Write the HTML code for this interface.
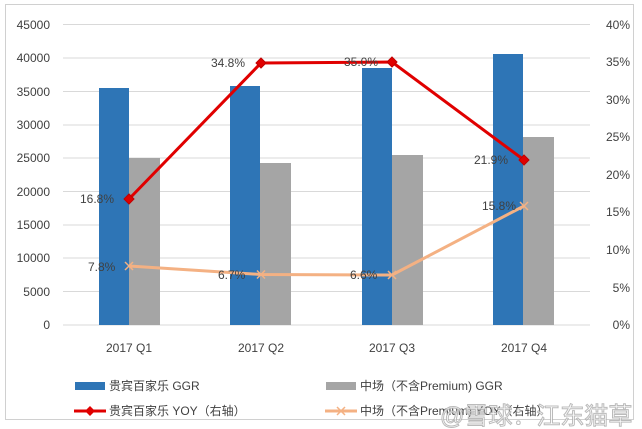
<!DOCTYPE html><html><head><meta charset="utf-8"><style>body{margin:0;background:#fff}svg{display:block}text{font-family:"Liberation Sans","Noto Sans CJK SC",sans-serif;font-size:12px;fill:#404040}</style></head><body>
<svg width="642" height="429" viewBox="0 0 642 429">
<rect x="5.5" y="4.5" width="628" height="415" fill="#fff" stroke="#d0d0d0"/>
<g stroke="#d9d9d9" stroke-width="1">
<line x1="63" x2="590" y1="24.5" y2="24.5"/><line x1="63" x2="590" y1="58" y2="58"/><line x1="63" x2="590" y1="91.5" y2="91.5"/><line x1="63" x2="590" y1="125" y2="125"/><line x1="63" x2="590" y1="158" y2="158"/><line x1="63" x2="590" y1="191.5" y2="191.5"/><line x1="63" x2="590" y1="225" y2="225"/><line x1="63" x2="590" y1="258" y2="258"/><line x1="63" x2="590" y1="291.5" y2="291.5"/><line x1="63" x2="590" y1="325" y2="325"/>
</g>
<g text-anchor="end"><text x="50" y="29">45000</text><text x="50" y="62">40000</text><text x="50" y="96">35000</text><text x="50" y="129">30000</text><text x="50" y="162">25000</text><text x="50" y="196">20000</text><text x="50" y="229">15000</text><text x="50" y="262">10000</text><text x="50" y="296">5000</text><text x="50" y="329">0</text></g>
<g text-anchor="end"><text x="630" y="29">40%</text><text x="630" y="66">35%</text><text x="630" y="104">30%</text><text x="630" y="141">25%</text><text x="630" y="179">20%</text><text x="630" y="216">15%</text><text x="630" y="254">10%</text><text x="630" y="292">5%</text><text x="630" y="329">0%</text></g>
<g fill="#2e75b6"><rect x="99" y="88" width="30" height="237"/><rect x="230" y="86" width="30" height="239"/><rect x="362" y="68" width="30" height="257"/><rect x="493" y="54" width="30" height="271"/></g>
<g fill="#a5a5a5"><rect x="129" y="158" width="31" height="167"/><rect x="260" y="163" width="31" height="162"/><rect x="392" y="155" width="31" height="170"/><rect x="523" y="137" width="31" height="188"/></g>
<polyline points="129,266 261,274.5 392,275 524,206" fill="none" stroke="#f4b183" stroke-width="3"/>
<g stroke="#f4b183" stroke-width="1.5"><path d="M125,262l8,8M133,262l-8,8M257,270.5l8,8M265,270.5l-8,8M388,271l8,8M396,271l-8,8M520,202l8,8M528,202l-8,8"/></g>
<polyline points="129,199 261,63 392,62 524,160" fill="none" stroke="#e00000" stroke-width="3"/>
<g fill="#e00000" stroke="#c00000"><path d="M129,194l5,5-5,5-5-5z"/><path d="M261,58l5,5-5,5-5-5z"/><path d="M392,57l5,5-5,5-5-5z"/><path d="M524,155l5,5-5,5-5-5z"/></g>
<text x="80" y="203">16.8%</text><text x="211" y="67">34.8%</text><text x="344" y="66">35.0%</text><text x="474" y="164">21.9%</text>
<text x="88" y="271">7.8%</text><text x="218" y="279">6.7%</text><text x="350" y="279">6.6%</text><text x="482" y="210">15.8%</text>
<g text-anchor="middle"><text x="129" y="352">2017 Q1</text><text x="261" y="352">2017 Q2</text><text x="392" y="352">2017 Q3</text><text x="524" y="352">2017 Q4</text></g>
<rect x="75" y="382" width="30" height="8" fill="#2e75b6"/><text x="109" y="390">贵宾百家乐 GGR</text>
<rect x="326" y="382" width="30" height="8" fill="#a5a5a5"/><text x="360" y="390">中场（不含Premium) GGR</text>
<line x1="74" x2="106" y1="411" y2="411" stroke="#e00000" stroke-width="3"/><path d="M90,406l5,5-5,5-5-5z" fill="#e00000"/><text x="109" y="415">贵宾百家乐 YOY（右轴）</text>
<line x1="325" x2="357" y1="411" y2="411" stroke="#f4b183" stroke-width="3"/><path d="M337,407l8,8M345,407l-8,8" stroke="#f4b183" stroke-width="1.5"/><text x="360" y="415">中场（不含Premium) YOY（右轴）</text>
<text x="440" y="424" style="font-size:24px;fill:#fff;stroke:#b0b0b0;stroke-width:1;opacity:0.85">@雪球：江东猫草</text>
</svg></body></html>
